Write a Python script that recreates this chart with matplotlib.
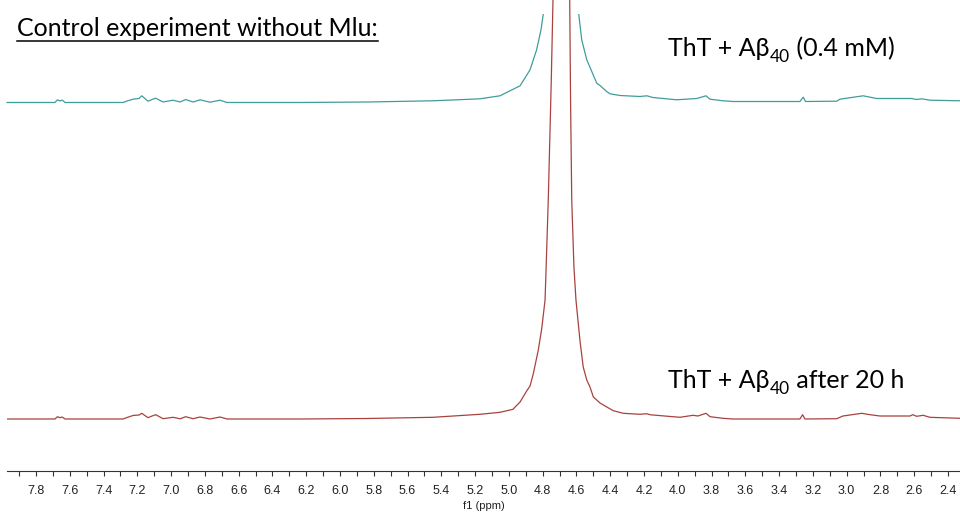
import numpy as np
import matplotlib
matplotlib.use("Agg")
import matplotlib.pyplot as plt
from matplotlib.patches import Rectangle
from matplotlib.lines import Line2D

# spectrum (ppm, intensity above own baseline, arbitrary units)
red_ppm = [7.972, 7.836, 7.688, 7.673, 7.658, 7.646, 7.628, 7.285, 7.261, 7.226,
           7.190, 7.174, 7.137, 7.113, 7.091, 7.048, 6.989, 6.947, 6.914, 6.870,
           6.829, 6.770, 6.711, 6.669, 6.237, 5.840, 5.450, 5.171, 5.053, 4.976,
           4.934, 4.895, 4.875, 4.856, 4.826, 4.806, 4.786, 4.780, 4.767, 4.757,
           4.749, 4.739, 4.689, 4.640, 4.635, 4.628, 4.615, 4.603, 4.579, 4.560,
           4.539, 4.520, 4.500, 4.480, 4.461, 4.441, 4.382, 4.323, 4.224, 4.184,
           4.165, 4.147, 4.029, 3.987, 3.910, 3.881, 3.833, 3.809, 3.733, 3.673,
           3.277, 3.261, 3.247, 3.059, 3.022, 2.911, 2.862, 2.803, 2.625, 2.609,
           2.586, 2.547, 2.507, 2.329]
red_int = [0, 0, 0, 2.3, 1.3, 2.0, 0, 0, 1.5, 3.5,
           4.0, 5.7, 1.3, 3.0, 4.3, 0.3, 1.7, 0.2, 2.3, 0.3,
           2.0, 0, 2.0, 0, 0, 0.5, 1.7, 4.7, 6.7, 9.7,
           17, 28, 33, 45, 69, 90, 119, 150, 219, 286,
           340, 419, 5000, 419, 319, 219, 152, 119, 78, 52,
           39, 32, 22, 19, 16, 14, 8.3, 5.7, 4.7, 5.3,
           4.3, 4.0, 2.3, 1.7, 3.7, 3.0, 5.7, 2.3, 0.7, 0,
           0, 4.3, 0, 0.3, 3.0, 5.7, 4.3, 3.0, 3.0, 4.3,
           2.7, 3.7, 1.7, 0.7]

teal_ppm = [7.972, 7.836, 7.688, 7.673, 7.658, 7.646, 7.628, 7.285, 7.261, 7.226,
            7.190, 7.174, 7.137, 7.113, 7.091, 7.048, 6.989, 6.947, 6.914, 6.870,
            6.829, 6.770, 6.711, 6.669, 6.237, 5.840, 5.450, 5.171, 5.053, 4.934,
            4.875, 4.836, 4.810, 4.796, 4.780, 4.757, 4.739, 4.689, 4.638, 4.615,
            4.599, 4.587, 4.569, 4.539, 4.480, 4.461, 4.421, 4.402, 4.342, 4.224,
            4.184, 4.147, 4.007, 3.888, 3.833, 3.809, 3.733, 3.673, 3.277, 3.257,
            3.244, 3.059, 3.040, 2.902, 2.823, 2.615, 2.586, 2.556, 2.507, 2.329]
teal_int = [0, 0, 0, 2.7, 1.5, 2.5, 0, 0, 1.5, 3.3,
            4.0, 6.7, 1.3, 3.0, 4.3, 0.5, 2.3, 0.5, 3.0, 0.5,
            2.7, 0.3, 2.3, 0, 0, 0.5, 1.7, 3.7, 6.7, 16.7,
            32.7, 52.7, 72.7, 89, 150, 286, 419, 5000, 419, 152,
            110, 89, 62.7, 42.7, 19.4, 17, 11, 8.7, 7.0, 6.0,
            6.7, 5.0, 2.7, 4.0, 6.7, 3.3, 1.7, 1.0, 1.0, 5.3,
            1.0, 1.3, 3.3, 6.7, 4.0, 4.0, 3.0, 3.7, 2.3, 1.7]

teal_offset = 316.5
teal_clip = 405.5

fig = plt.figure(figsize=(9.6, 5.13), dpi=100)
ax = fig.add_axes([7/960, 42.4/513, 953/960, 470.6/513])

ax.plot(red_ppm, red_int, color='#a8423f', lw=0.9)
teal_line, = ax.plot(teal_ppm, np.array(teal_int) + teal_offset, color='#3f9d9b', lw=0.9)
clip = Rectangle((2.0, -100), 7, teal_clip + 100, transform=ax.transData)
teal_line.set_clip_path(clip)

ax.set_xlim(7.972, 2.329)
ax.set_ylim(-51.6, 419)
ax.set_xticks(np.arange(2.4, 7.81, 0.2))
ax.set_xticks(np.arange(2.4, 7.95, 0.1), minor=True)
ax.set_xticklabels([f"{v:.1f}" for v in np.arange(2.4, 7.81, 0.2)],
                   fontsize=9, family='Liberation Sans', color='#222222')
ax.tick_params(axis='x', which='both', direction='out', length=3.5, width=0.8,
               pad=7, color='#333333')
ax.set_yticks([])
for s in ['left', 'top', 'right']:
    ax.spines[s].set_visible(False)
ax.spines['bottom'].set_linewidth(0.8)
ax.spines['bottom'].set_color('#333333')
ax.set_xlabel("f1 (ppm)", fontsize=8, family='Liberation Sans', labelpad=3, color='#222222')

fig.text(17/960, 1 - 29/513, "Control experiment without Mlu:", fontsize=18,
         family='Lato', va='center', ha='left')
fig.add_artist(Line2D([17/960, 378/960], [1 - 41/513, 1 - 41/513], color='black', lw=1.1))

# labels with a subscript: draw pieces one after another
renderer = fig.canvas.get_renderer()
def sub_label(x_px, y_px, head, sub, tail):
    x = x_px
    for txt, size, dy in [(head, 18, 0), (sub, 12.5, -6), (tail, 18, 0)]:
        t = fig.text(x / 960, 1 - (y_px - dy) / 513, txt, fontsize=size,
                     family='Lato', va='baseline', ha='left')
        x += t.get_window_extent(renderer).width

sub_label(668, 56, "ThT + A\u03b2", "40", " (0.4 mM)")
sub_label(668, 388, "ThT + A\u03b2", "40", " after 20 h")

fig.savefig("out.png", dpi=100)
